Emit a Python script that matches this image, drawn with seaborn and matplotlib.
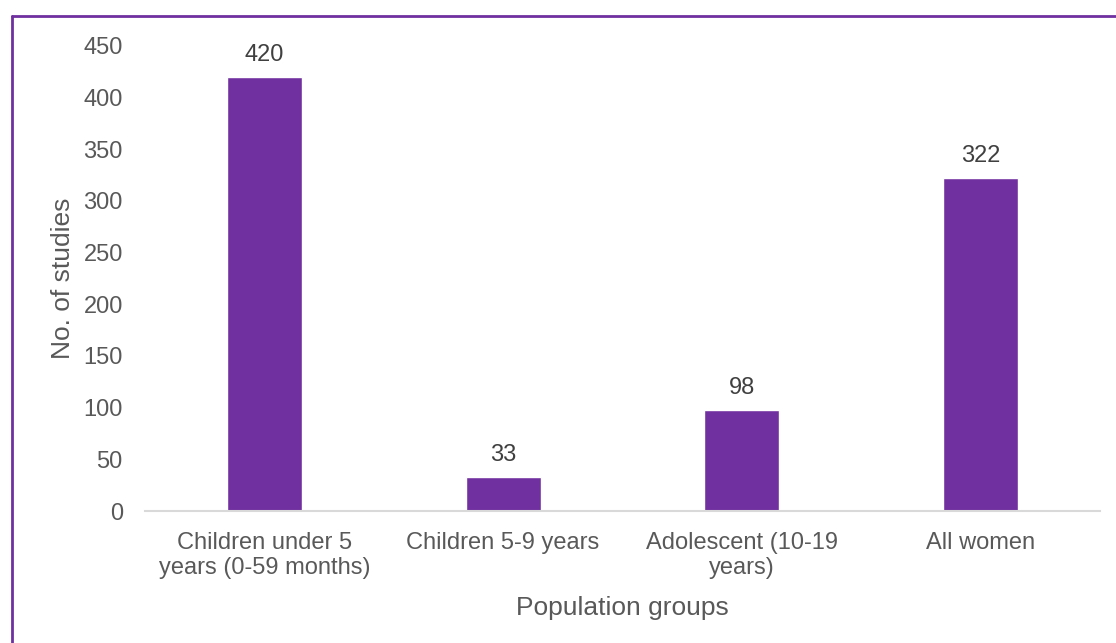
import matplotlib
matplotlib.use("Agg")
import matplotlib.pyplot as plt
import seaborn as sns
import pandas as pd
from matplotlib.lines import Line2D

categories = ["Children under 5\nyears (0-59 months)", "Children 5-9 years",
              "Adolescent (10-19\nyears)", "All women"]
values = [420, 33, 98, 322]
yticks = [0, 50, 100, 150, 200, 250, 300, 350, 400, 450]

sns.set_theme(style="white")
plt.rcParams['font.family'] = ['Liberation Sans', 'DejaVu Sans']

df = pd.DataFrame({"group": categories, "n": values})

fig = plt.figure(figsize=(11.16, 6.43), dpi=100)
ax = fig.add_axes([145/1116, 132/643, 955/1116, 465/643])
purple = "#7030A0"
sns.barplot(data=df, x="group", y="n", color=purple, width=0.314, ax=ax, saturation=1)

ax.set_xlim(-0.5, 3.5)
ax.set_ylim(0, 450)
ax.set_yticks(yticks)
for s in ["top", "right", "left"]:
    ax.spines[s].set_visible(False)
ax.spines["bottom"].set_color("#D9D9D9")
ax.spines["bottom"].set_linewidth(1.5)
ax.tick_params(axis="both", length=0, labelsize=17, colors="#595959")
ax.tick_params(axis="y", pad=16)
ax.tick_params(axis="x", pad=15)
for lbl in ax.get_xticklabels():
    lbl.set_linespacing(1.2)

ax.set_xlabel("Population groups", fontsize=19, color="#595959", labelpad=12)
ax.set_ylabel("No. of studies", fontsize=19, color="#595959", labelpad=6)

for i, v in enumerate(values):
    ax.annotate(str(v), (i, v), xytext=(0, 8), textcoords="offset points",
                ha="center", va="bottom", fontsize=17, color="#404040")

# purple frame
fig.add_artist(Line2D([12/1116, 12/1116], [0, 1 - 16/643], transform=fig.transFigure,
                      color=purple, lw=2))
fig.add_artist(Line2D([12/1116, 1], [1 - 16/643, 1 - 16/643], transform=fig.transFigure,
                      color=purple, lw=2))

fig.savefig("out.png", dpi=100)
